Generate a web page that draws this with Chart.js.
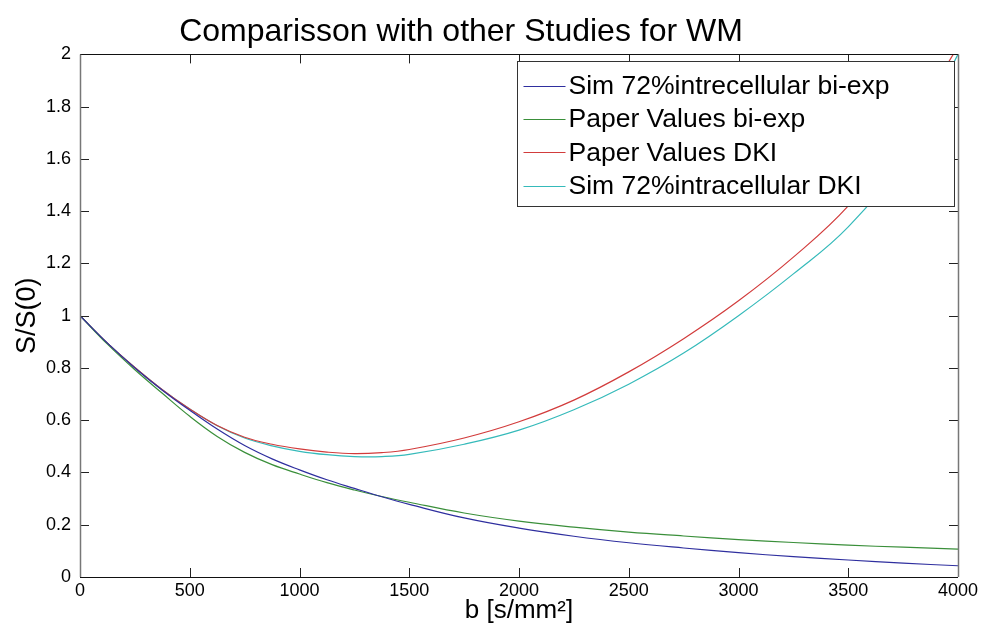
<!DOCTYPE html>
<html>
<head>
<meta charset="utf-8">
<script src="https://cdn.jsdelivr.net/npm/chart.js@4.4.1/dist/chart.umd.min.js"></script>
<style>
  html, body { margin: 0; padding: 0; background: #fff; }
  #wrap { width: 983px; height: 641px; }
</style>
</head>
<body>
<div id="wrap"><canvas id="chart" width="983" height="641"></canvas></div>
<script>
// b values [s/mm^2] and signal ratios (denser where the curves bend)
const bValues = [0, 125, 250, 375, 500, 625, 750, 875, 1000, 1125, 1250, 1375, 1500,
                 1750, 2000, 2250, 2500, 2750, 3000, 3250, 3500, 3750, 4000];
const simBiExp = [1.0, 0.895, 0.80, 0.715, 0.638, 0.566, 0.503, 0.452, 0.41, 0.372, 0.339, 0.307, 0.278,
                  0.226, 0.187, 0.156, 0.131, 0.111, 0.093, 0.078, 0.065, 0.053, 0.043];
const paperBiExp = [1.0, 0.891, 0.793, 0.703, 0.615, 0.538, 0.477, 0.43, 0.394, 0.361, 0.333, 0.308, 0.286,
                    0.245, 0.214, 0.191, 0.172, 0.157, 0.143, 0.132, 0.122, 0.114, 0.107];
const paperDKI = [1.0, 0.895, 0.802, 0.717, 0.643, 0.58, 0.535, 0.508, 0.49, 0.478, 0.472, 0.476, 0.488,
                  0.532, 0.594, 0.677, 0.785, 0.912, 1.057, 1.224, 1.42, 1.69, 2.03];
const simDKI = [1.0, 0.895, 0.802, 0.717, 0.643, 0.579, 0.532, 0.502, 0.481, 0.468, 0.461, 0.461, 0.469,
                0.508, 0.562, 0.64, 0.738, 0.857, 1.0, 1.16, 1.34, 1.6, 2.0];

const seriesLabels = ['Sim 72%intrecellular bi-exp', 'Paper Values bi-exp', 'Paper Values DKI', 'Sim 72%intracellular DKI'];
const seriesColors = ['#2f2f9f', '#3a8f3a', '#d23c3c', '#35baba'];
const chartTitle = 'Comparisson with other Studies for WM';
const xTitle = 'b [s/mm²]';
const yTitle = 'S/S(0)';

const FONT = '"Liberation Sans", Arial, Helvetica, sans-serif';

function toPoints(vals) {
    return bValues.map((b, i) => ({ x: b, y: vals[i] }));
}

const allSeries = [simBiExp, paperBiExp, paperDKI, simDKI];

// draws the box round the plot and the inward tick marks on all four sides
const frameTicks = {
    id: 'frameTicks',
    afterDatasetsDraw(chart) {
        const { ctx, chartArea: a, scales } = chart;
        const tl = 9;
        ctx.save();
        ctx.lineWidth = 1;
        ctx.strokeStyle = '#222';
        ctx.beginPath();
        scales.x.ticks.forEach(t => {
            const px = Math.round(scales.x.getPixelForValue(t.value)) + 0.5;
            ctx.moveTo(px, a.bottom); ctx.lineTo(px, a.bottom - tl);
            ctx.moveTo(px, a.top); ctx.lineTo(px, a.top + tl);
        });
        scales.y.ticks.forEach(t => {
            const py = Math.round(scales.y.getPixelForValue(t.value)) + 0.5;
            ctx.moveTo(a.left, py); ctx.lineTo(a.left + tl, py);
            ctx.moveTo(a.right, py); ctx.lineTo(a.right - tl, py);
        });
        ctx.stroke();
        ctx.strokeStyle = '#111';
        ctx.beginPath();
        ctx.moveTo(a.left, Math.round(a.top) + 0.5); ctx.lineTo(a.right, Math.round(a.top) + 0.5);
        ctx.moveTo(a.left, Math.round(a.bottom) + 0.5); ctx.lineTo(a.right, Math.round(a.bottom) + 0.5);
        ctx.stroke();
        ctx.strokeStyle = '#777';
        ctx.lineWidth = 1.5;
        ctx.beginPath();
        ctx.moveTo(Math.round(a.left) + 0.5, a.top); ctx.lineTo(Math.round(a.left) + 0.5, a.bottom);
        ctx.moveTo(Math.round(a.right) + 0.5, a.top); ctx.lineTo(Math.round(a.right) + 0.5, a.bottom);
        ctx.stroke();
        ctx.restore();
    }
};

// legend drawn inside the plot, top right, like matlab's 'NorthEast'
const boxLegend = {
    id: 'boxLegend',
    afterDatasetsDraw(chart) {
        const { ctx, chartArea: a } = chart;
        const w = 437, h = 145;
        const left = Math.round(a.right - 4 - w) + 0.5;
        const top = Math.round(a.top + 7) + 0.5;
        ctx.save();
        ctx.fillStyle = '#fff';
        ctx.fillRect(left, top, w, h);
        ctx.strokeStyle = '#333';
        ctx.lineWidth = 1;
        ctx.strokeRect(left, top, w, h);
        ctx.font = '26.5px ' + FONT;
        ctx.textBaseline = 'middle';
        ctx.textAlign = 'left';
        chart.data.datasets.forEach((ds, i) => {
            const y = top + 24 + i * 33.4;
            ctx.strokeStyle = ds.borderColor;
            ctx.lineWidth = 1.2;
            ctx.beginPath();
            ctx.moveTo(left + 6, Math.round(y) + 0.5);
            ctx.lineTo(left + 48, Math.round(y) + 0.5);
            ctx.stroke();
            ctx.fillStyle = '#000';
            ctx.fillText(ds.label, left + 51, y + 1);
        });
        ctx.restore();
    }
};

// matlab centres the title on a narrower box than the full figure
const shiftTitle = {
    id: 'shiftTitle',
    afterLayout(chart) {
        if (chart.titleBlock) {
            chart.titleBlock.left = 0;
            chart.titleBlock.right = 922;
        }
    }
};

const ctx = document.getElementById('chart').getContext('2d');

new Chart(ctx, {
    type: 'line',
    data: {
        datasets: allSeries.map((vals, i) => ({
            label: seriesLabels[i],
            data: toPoints(vals),
            borderColor: seriesColors[i],
            backgroundColor: seriesColors[i],
            borderWidth: 1.2,
            pointRadius: 0,
            tension: 0.4,
            fill: false
        }))
    },
    options: {
        responsive: false,
        animation: false,
        layout: { padding: { left: 0, right: 25, top: 0, bottom: 0 } },
        plugins: {
            legend: { display: false },
            tooltip: { enabled: false },
            title: {
                display: true,
                text: chartTitle,
                color: '#000',
                font: { family: FONT, size: 32, weight: 'normal' },
                padding: { top: 13, bottom: 3 }
            }
        },
        scales: {
            x: {
                type: 'linear',
                min: 0,
                max: 4000,
                grid: { display: false, drawTicks: false },
                border: { display: false },
                ticks: {
                    stepSize: 500,
                    padding: 3,
                    color: '#000',
                    font: { family: FONT, size: 18 },
                    callback: v => String(v),
                    maxRotation: 0
                },
                title: {
                    display: true,
                    text: xTitle,
                    color: '#000',
                    font: { family: FONT, size: 26 },
                    padding: { top: 0, bottom: 15 }
                },
                afterFit(s) { s.height = 64; }
            },
            y: {
                type: 'linear',
                min: 0,
                max: 2,
                grid: { display: false, drawTicks: false },
                border: { display: false },
                ticks: {
                    stepSize: 0.2,
                    padding: 9,
                    color: '#000',
                    font: { family: FONT, size: 18 },
                    callback: v => String(Math.round(v * 10) / 10)
                },
                title: {
                    display: true,
                    text: yTitle,
                    color: '#000',
                    font: { family: FONT, size: 27 },
                    padding: { top: 11, bottom: 0 }
                },
                afterFit(s) { s.width = 80; }
            }
        }
    },
    plugins: [shiftTitle, frameTicks, boxLegend]
});
</script>
</body>
</html>
